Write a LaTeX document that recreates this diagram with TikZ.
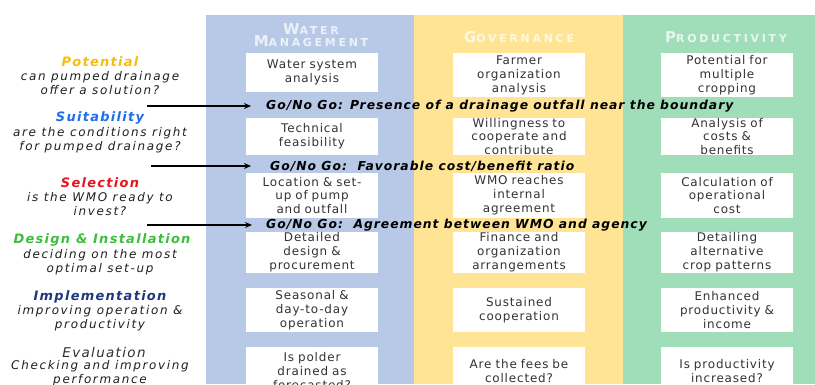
\documentclass[tikz,border=0pt]{standalone}
\usepackage{fontspec}
\setmainfont{DejaVu Sans}
\newfontfamily\cellfont[LetterSpace=7]{DejaVu Sans}
\newfontfamily\sidefont[LetterSpace=14]{DejaVu Sans}
\newfontfamily\titlefont[LetterSpace=10]{DejaVu Sans}
\newfontfamily\gofont[LetterSpace=8]{DejaVu Sans}
\newfontfamily\headfont[LetterSpace=25]{DejaVu Sans}
\usetikzlibrary{arrows.meta}

\definecolor{wmblue}{RGB}{183,201,230}
\definecolor{govyellow}{RGB}{255,228,150}
\definecolor{prodgreen}{RGB}{160,222,186}
\definecolor{potcol}{RGB}{248,188,10}
\definecolor{suitcol}{RGB}{30,110,235}
\definecolor{selcol}{RGB}{230,20,30}
\definecolor{descol}{RGB}{60,190,60}
\definecolor{impcol}{RGB}{30,55,125}
\definecolor{evalcol}{RGB}{45,45,45}
\definecolor{celltext}{RGB}{50,50,50}
\definecolor{sidetext}{RGB}{30,30,30}
\definecolor{headtext}{RGB}{255,255,255}

% small caps drawn from two sizes of capitals
\newcommand{\fakesc}[2]{{\fontsize{15}{17}\selectfont #1}{\fontsize{11}{17}\selectfont #2}}

\tikzset{
  cell/.style={fill=white, inner sep=0pt, minimum width=132bp, text width=132bp,
    align=center, text=celltext, font=\cellfont\fontsize{12}{14}\selectfont},
  sidetitle/.style={inner sep=0pt, font=\titlefont\bfseries\itshape\fontsize{13}{14}\selectfont},
  sidenote/.style={inner sep=0pt, align=center, text=sidetext,
    font=\sidefont\itshape\fontsize{12}{14}\selectfont},
  gonote/.style={inner sep=0pt, anchor=west, text=black,
    font=\gofont\bfseries\itshape\fontsize{12.4}{13}\selectfont},
  header/.style={inner sep=0pt, align=center, text=headtext, text opacity=0.75,
    font=\headfont\bfseries},
  gate/.style={line width=1.4bp, black, -{Stealth[length=7bp,width=6bp]}}
}

\begin{document}
\begin{tikzpicture}[x=1bp, y=-1bp]
\useasboundingbox (0,0) rectangle (815,384);
\clip (0,0) rectangle (815,384);

% column panels
\fill[wmblue] (206,15) rectangle (414,384);
\fill[govyellow] (414,15) rectangle (623,384);
\fill[prodgreen] (623,15) rectangle (815,384);

% column headers
\node[header] (hwm) at (311,35) {\fakesc{W}{ATER}\\\fakesc{M}{ANAGEMENT}};
\node[header] (hgov) at (519,37) {\fakesc{G}{OVERNANCE}};
\node[header] (hprod) at (726,37) {\fakesc{P}{RODUCTIVITY}};

% water management column
\node[cell, minimum height=39bp] (wm1) at (312,72.5) {Water system\\analysis};
\node[cell, minimum height=37bp] (wm2) at (312,136.5) {Technical\\feasibility};
\node[cell, minimum height=45bp] (wm3) at (312,195.5) {Location \& set-\\up of pump\\and outfall};
\node[cell, minimum height=41bp] (wm4) at (312,252.5) {Detailed\\design \&\\procurement};
\node[cell, minimum height=44bp] (wm5) at (312,310) {Seasonal \&\\day-to-day\\operation};
\node[cell, minimum height=48bp] (wm6) at (312,371) {Is polder\\drained as\\forecasted?};

% governance column
\node[cell, minimum height=44bp] (gov1) at (519,75) {Farmer\\organization\\analysis};
\node[cell, minimum height=37bp] (gov2) at (519,136.5) {Willingness to\\cooperate and\\contribute};
\node[cell, minimum height=45bp] (gov3) at (519,195.5) {WMO reaches\\internal\\agreement};
\node[cell, minimum height=41bp] (gov4) at (519,252.5) {Finance and\\organization\\arrangements};
\node[cell, minimum height=44bp] (gov5) at (519,310) {Sustained\\cooperation};
\node[cell, minimum height=48bp] (gov6) at (519,371) {Are the fees be\\collected?};

% productivity column
\node[cell, minimum height=44bp] (prod1) at (727,75) {Potential for\\multiple\\cropping};
\node[cell, minimum height=37bp] (prod2) at (727,136.5) {Analysis of\\costs \&\\benefits};
\node[cell, minimum height=45bp] (prod3) at (727,195.5) {Calculation of\\operational\\cost};
\node[cell, minimum height=41bp] (prod4) at (727,252.5) {Detailing\\alternative\\crop patterns};
\node[cell, minimum height=44bp] (prod5) at (727,310) {Enhanced\\productivity \&\\income};
\node[cell, minimum height=48bp] (prod6) at (727,371) {Is productivity\\increased?};

% phases on the left
\node[sidetitle, text=potcol] (potential) at (100,62) {Potential};
\node[sidenote] (potq) at (100,83) {can pumped drainage\\offer a solution?};
\node[sidetitle, text=suitcol] (suitability) at (100,118) {Suitability};
\node[sidenote] (suitq) at (100,140) {are the conditions right\\for pumped drainage?};
\node[sidetitle, text=selcol] (selection) at (100,183) {Selection};
\node[sidenote] (selq) at (100,204) {is the WMO ready to\\invest?};
\node[sidetitle, text=descol] (design) at (102,240) {Design \& Installation};
\node[sidenote] (desq) at (100,262) {deciding on the most\\optimal set-up};
\node[sidetitle, text=impcol] (implementation) at (100,297) {Implementation};
\node[sidenote] (impq) at (100,318) {improving operation \&\\productivity};
\node[sidetitle, text=evalcol, font=\titlefont\itshape\fontsize{13.5}{14}\selectfont] (evaluation) at (104,352) {Evaluation};
\node[sidenote] (evalq) at (100,373) {Checking and improving\\performance};

% go / no go gates
\coordinate (g1s) at (147,106);
\coordinate (g1e) at (251,106);
\coordinate (g2s) at (151,166);
\coordinate (g2e) at (251,166);
\coordinate (g3s) at (147,225);
\coordinate (g3e) at (252,225);
\draw[gate] (g1s) -- (g1e);
\draw[gate] (g2s) -- (g2e);
\draw[gate] (g3s) -- (g3e);
\node[gonote] (go1) at (266,106) {Go/No Go: Presence of a drainage outfall near the boundary};
\node[gonote] (go2) at (270,166) {Go/No Go:\ \ Favorable cost/benefit ratio};
\node[gonote] (go3) at (266,225) {Go/No Go:\ \ Agreement between WMO and agency};
\end{tikzpicture}
\end{document}
